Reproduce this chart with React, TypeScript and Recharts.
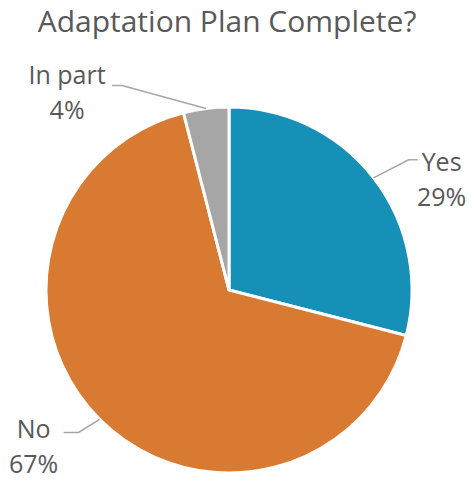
import React from 'react';
import { PieChart, Pie, Cell } from 'recharts';

const categories = ['Yes', 'No', 'In part'];
const shares = [29, 67, 4];
const sliceColors = ['#1690b6', '#d97a33', '#a6a6a6'];

const pieData = categories.map((name, i) => ({ name, value: shares[i] }));

// elbow / text placement relative to where the leader leaves the pie
const labelLayout: Record<string, { elbow: [number, number]; end: [number, number]; text: [number, number] }> = {
  Yes: { elbow: [35, -18], end: [44, -18], text: [68, -7] },
  No: { elbow: [-21, 13], end: [-36, 13], text: [-66, 19] },
  'In part': { elbow: [-84, -23], end: [-94, -23], text: [-139, -24] },
};

const RAD = Math.PI / 180;

const renderLabel = (props: any) => {
  const { cx, cy, midAngle, outerRadius, name, value } = props;
  const lay = labelLayout[name];
  const sx = cx + outerRadius * Math.cos(-midAngle * RAD);
  const sy = cy + outerRadius * Math.sin(-midAngle * RAD);
  const ex = sx + lay.elbow[0];
  const ey = sy + lay.elbow[1];
  const fx = sx + lay.end[0];
  const fy = sy + lay.end[1];
  const tx = sx + lay.text[0];
  const ty = sy + lay.text[1];
  return (
    <g>
      <polyline points={`${sx},${sy} ${ex},${ey} ${fx},${fy}`} fill="none" stroke="#a6a6a6" strokeWidth={1.5} />
      <text x={tx} y={ty} textAnchor="middle" fill="#595959" fontSize={25} fontFamily="'Open Sans', sans-serif">
        {name}
      </text>
      <text x={tx} y={ty + 35} textAnchor="middle" fill="#595959" fontSize={25} fontFamily="'Open Sans', sans-serif">
        {value}%
      </text>
    </g>
  );
};

export default function App() {
  return (
    <div style={{ position: 'fixed', left: 0, top: 0, width: 471, height: 481, background: '#fff' }}>
      <div
        style={{
          position: 'absolute',
          top: 0,
          left: 0,
          width: 454,
          textAlign: 'center',
          fontFamily: "'Open Sans', sans-serif",
          fontSize: 30,
          color: '#595959',
          lineHeight: '42px',
        }}
      >
        Adaptation Plan Complete?
      </div>
      <PieChart
        width={471}
        height={481}
        margin={{ top: 0, right: 0, bottom: 0, left: 0 }}
        style={{ position: 'absolute', top: 0, left: 0 }}
      >
        <Pie
          data={pieData}
          dataKey="value"
          nameKey="name"
          cx={229}
          cy={290}
          outerRadius={183}
          startAngle={90}
          endAngle={-270}
          stroke="#ffffff"
          strokeWidth={3}
          label={renderLabel}
          labelLine={false}
          isAnimationActive={false}
        >
          {pieData.map((d, i) => (
            <Cell key={d.name} fill={sliceColors[i]} />
          ))}
        </Pie>
      </PieChart>
    </div>
  );
}
